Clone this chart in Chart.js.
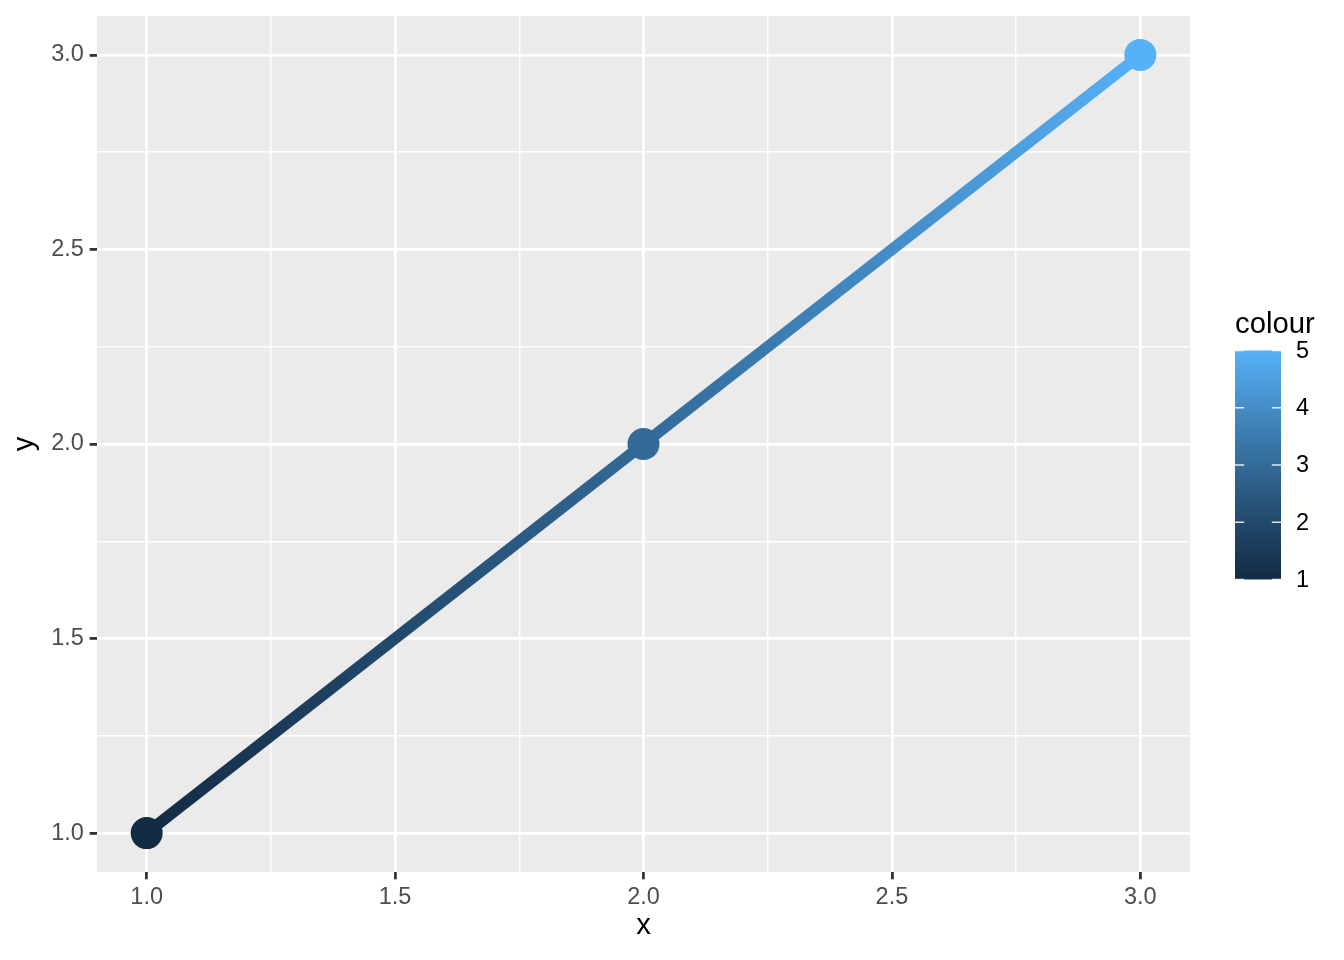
<!DOCTYPE html>
<html>
<head>
<meta charset="utf-8">
<script src="https://cdn.jsdelivr.net/npm/chart.js@4/dist/chart.umd.min.js"></script>
<style>
  html, body { margin: 0; padding: 0; background: #ffffff; }
  #wrap { width: 1344px; height: 960px; position: relative; }
</style>
</head>
<body>
<div id="wrap"><canvas id="c" width="1344" height="960"></canvas></div>
<script>
// ---- data ----
const xValues = [1, 2, 3];
const yValues = [1, 2, 3];
const colourValues = [1, 3, 5];
const majorTicks = [1.0, 1.5, 2.0, 2.5, 3.0];
const minorTicks = [1.25, 1.75, 2.25, 2.75];
const legendTicks = [1, 2, 3, 4, 5];
const legendTitle = 'colour';
const xTitle = 'x';
const yTitle = 'y';
const colourLow = '#132B43';
const colourHigh = '#56B1F7';

// ---- colour scale (Lab interpolation, like ggplot2's default gradient) ----
function hexToRgb(h) {
  return [1, 3, 5].map(i => parseInt(h.substr(i, 2), 16) / 255);
}
function toLin(c) { return c <= 0.04045 ? c / 12.92 : Math.pow((c + 0.055) / 1.055, 2.4); }
function fromLin(c) { return c <= 0.0031308 ? 12.92 * c : 1.055 * Math.pow(c, 1 / 2.4) - 0.055; }
const WN = [0.95047, 1.0, 1.08883];
function rgbToLab(rgb) {
  const [r, g, b] = rgb.map(toLin);
  const X = 0.4124564 * r + 0.3575761 * g + 0.1804375 * b;
  const Y = 0.2126729 * r + 0.7151522 * g + 0.0721750 * b;
  const Z = 0.0193339 * r + 0.1191920 * g + 0.9503041 * b;
  const f = t => t > 0.008856 ? Math.cbrt(t) : 7.787 * t + 16 / 116;
  const fx = f(X / WN[0]), fy = f(Y / WN[1]), fz = f(Z / WN[2]);
  return [116 * fy - 16, 500 * (fx - fy), 200 * (fy - fz)];
}
function labToRgb(lab) {
  const [L, a, bb] = lab;
  const fy = (L + 16) / 116, fx = fy + a / 500, fz = fy - bb / 200;
  const finv = t => t * t * t > 0.008856 ? t * t * t : (t - 16 / 116) / 7.787;
  const X = finv(fx) * WN[0], Y = finv(fy) * WN[1], Z = finv(fz) * WN[2];
  const r = 3.2404542 * X - 1.5371385 * Y - 0.4985314 * Z;
  const g = -0.9692660 * X + 1.8760108 * Y + 0.0415560 * Z;
  const b = 0.0556434 * X - 0.2040259 * Y + 1.0572252 * Z;
  return [r, g, b].map(c => Math.round(Math.min(1, Math.max(0, fromLin(c))) * 255));
}
const labLow = rgbToLab(hexToRgb(colourLow));
const labHigh = rgbToLab(hexToRgb(colourHigh));
const cMin = Math.min(...legendTicks), cMax = Math.max(...legendTicks);
function colourFor(v) {
  const t = (v - cMin) / (cMax - cMin);
  const lab = labLow.map((l, i) => l + (labHigh[i] - l) * t);
  const [r, g, b] = labToRgb(lab);
  return `rgb(${r},${g},${b})`;
}

const allTicks = majorTicks.concat(minorTicks).sort((a, b) => a - b);
const isMajor = v => majorTicks.some(m => Math.abs(m - v) < 1e-9);

const TICK_FONT = { family: 'Liberation Sans, Arial, sans-serif', size: 23.5 };
const TITLE_FONT = { family: 'Liberation Sans, Arial, sans-serif', size: 29.3 };

function lineGradient(ctx) {
  const chart = ctx.chart;
  const area = chart.chartArea;
  if (!area) return colourFor(colourValues[0]);
  const xs = chart.scales.x;
  const p0 = xs.getPixelForValue(xValues[0]);
  const p1 = xs.getPixelForValue(xValues[xValues.length - 1]);
  const grad = chart.ctx.createLinearGradient(p0, 0, p1, 0);
  for (let i = 0; i < xValues.length - 1; i++) {
    const a = xs.getPixelForValue(xValues[i]);
    const b = xs.getPixelForValue(xValues[i + 1]);
    const n = 20;
    for (let k = 0; k <= n; k++) {
      const t = k / n;
      const px = a + (b - a) * t;
      const cv = colourValues[i] + (colourValues[i + 1] - colourValues[i]) * t;
      grad.addColorStop(Math.min(1, Math.max(0, (px - p0) / (p1 - p0))), colourFor(cv));
    }
  }
  return grad;
}

const panelPlugin = {
  id: 'panel',
  beforeDraw(chart) {
    const { ctx, chartArea: a } = chart;
    ctx.save();
    ctx.fillStyle = '#EBEBEB';
    ctx.fillRect(a.left, a.top, a.right - a.left, a.bottom - a.top);
    ctx.restore();
  }
};

const colourbarPlugin = {
  id: 'colourbar',
  afterDraw(chart) {
    const ctx = chart.ctx;
    const left = 1235, width = 46, top = 350.5, bottom = 579.5;
    const vToY = v => bottom - (v - cMin) / (cMax - cMin) * (bottom - top);
    ctx.save();
    const grad = ctx.createLinearGradient(0, bottom, 0, top);
    for (let k = 0; k <= 40; k++) {
      const t = k / 40;
      grad.addColorStop(t, colourFor(cMin + (cMax - cMin) * t));
    }
    ctx.fillStyle = grad;
    ctx.fillRect(left, top, width, bottom - top);
    // ticks
    ctx.strokeStyle = 'rgba(255,255,255,0.85)';
    ctx.lineWidth = 1.4;
    const tl = width / 5;
    legendTicks.forEach(v => {
      const y = vToY(v);
      ctx.beginPath();
      ctx.moveTo(left, y); ctx.lineTo(left + tl, y);
      ctx.moveTo(left + width - tl, y); ctx.lineTo(left + width, y);
      ctx.stroke();
    });
    // labels
    ctx.fillStyle = '#000000';
    ctx.font = `${TICK_FONT.size}px ${TICK_FONT.family}`;
    ctx.textAlign = 'left';
    ctx.textBaseline = 'middle';
    legendTicks.forEach(v => {
      ctx.fillText(String(v), 1296, vToY(v) + 1);
    });
    // title
    ctx.font = `${TITLE_FONT.size}px ${TITLE_FONT.family}`;
    ctx.textBaseline = 'alphabetic';
    ctx.fillText(legendTitle, 1235, 333);
    ctx.restore();
  }
};

function axisOpts(titleText, isX) {
  return {
    type: 'linear',
    min: 0.9,
    max: 3.1,
    afterBuildTicks: (scale) => { scale.ticks = allTicks.map(v => ({ value: v })); },
    afterFit: (scale) => {
      if (isX) scale.height = 88; else scale.width = 97;
      scale.paddingTop = 0; scale.paddingBottom = 0;
      scale.paddingLeft = 0; scale.paddingRight = 0;
    },
    border: { display: false },
    grid: {
      color: '#FFFFFF',
      lineWidth: (c) => (c.tick && isMajor(c.tick.value)) ? 2.8 : 1.4,
      drawTicks: true,
      tickLength: 7.3,
      tickWidth: 2.8,
      tickColor: (c) => (c.tick && isMajor(c.tick.value)) ? '#333333' : 'rgba(0,0,0,0)'
    },
    ticks: {
      autoSkip: false,
      maxRotation: 0,
      minRotation: 0,
      padding: isX ? 4 : 5.9,
      color: '#4D4D4D',
      font: TICK_FONT,
      callback: (v) => isMajor(v) ? Number(v).toFixed(1) : ''
    },
    title: {
      display: true,
      text: titleText,
      color: '#000000',
      font: TITLE_FONT,
      padding: isX ? { top: 0, bottom: 16.4 } : { top: 7.4, bottom: 0 }
    }
  };
}

new Chart(document.getElementById('c'), {
  type: 'scatter',
  data: {
    datasets: [{
      data: xValues.map((x, i) => ({ x: x, y: yValues[i] })),
      showLine: true,
      borderColor: lineGradient,
      borderWidth: 11.4,
      borderCapStyle: 'butt',
      borderJoinStyle: 'round',
      pointRadius: 16,
      pointHoverRadius: 16,
      pointBorderWidth: 0,
      pointBackgroundColor: colourValues.map(colourFor),
      pointBorderColor: colourValues.map(colourFor),
      clip: false
    }]
  },
  options: {
    responsive: false,
    animation: false,
    events: [],
    layout: { padding: { left: 0, top: 14, right: 154, bottom: 0 } },
    plugins: { legend: { display: false }, tooltip: { enabled: false } },
    scales: {
      x: axisOpts(xTitle, true),
      y: axisOpts(yTitle, false)
    }
  },
  plugins: [panelPlugin, colourbarPlugin]
});
</script>
</body>
</html>
